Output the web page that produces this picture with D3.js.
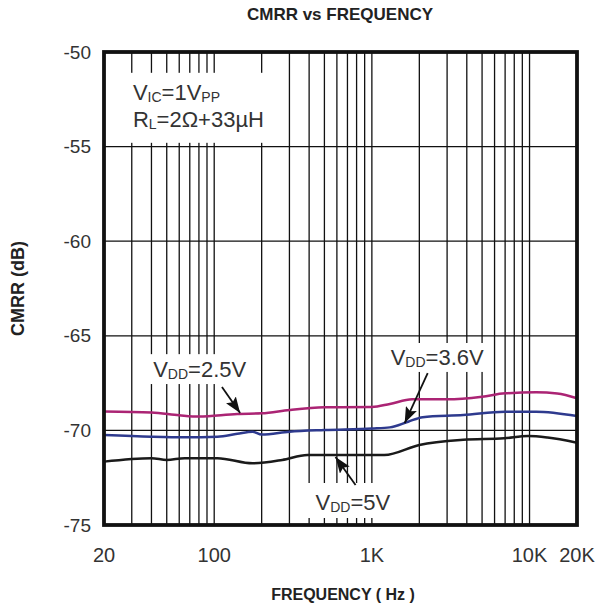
<!DOCTYPE html>
<html>
<head>
<meta charset="utf-8">
<script src="https://cdn.jsdelivr.net/npm/d3@7"></script>
<style>
  body { margin: 0; background: #fff; }
  text { font-family: "Liberation Sans", Arial, sans-serif; }
</style>
</head>
<body>
<script>
var w = 605;
var h = 610;

// values (Hz, dB)
var freq25 = [20, 40, 60, 80, 140, 200, 300, 500, 1000, 1300, 1800, 3000, 5000, 7000, 11000, 15000, 20000];
var cmrr25 = [-69.0, -69.05, -69.2, -69.27, -69.13, -69.1, -68.92, -68.78, -68.76, -68.6, -68.36, -68.36, -68.22, -68.04, -67.99, -68.05, -68.3];

var freq36 = [20, 40, 65, 105, 140, 175, 200, 300, 500, 1000, 1300, 1700, 2100, 3800, 7000, 11000, 20000];
var cmrr36 = [-70.24, -70.33, -70.36, -70.33, -70.18, -70.07, -70.22, -70.07, -69.98, -69.9, -69.84, -69.54, -69.3, -69.19, -69.01, -69.01, -69.24];

var freq5 = [20, 40, 50, 65, 105, 175, 270, 390, 550, 1200, 2000, 3800, 6900, 9800, 13000, 20000];
var cmrr5 = [-71.65, -71.47, -71.56, -71.47, -71.47, -71.74, -71.56, -71.3, -71.3, -71.3, -70.77, -70.5, -70.42, -70.3, -70.38, -70.65];

var xTicks = [20, 100, 1000, 10000, 20000];
var xTickLabels = ["20", "100", "1K", "10K", "20K"];
var gridFreqs = [30, 40, 50, 60, 70, 80, 90, 100, 200, 300, 400, 500, 600, 700, 800, 900,
                 1000, 2000, 3000, 4000, 5000, 6000, 7000, 8000, 9000, 10000];
var yTicks = [-50, -55, -60, -65, -70, -75];

var margin = {left: 104, right: 28, top: 52, bottom: 85};

var svg = d3.select("body")
    .append("svg")
    .attr("width", w)
    .attr("height", h);

var x = d3.scaleLog().domain([20, 20000]).range([margin.left, w - margin.right]);
var y = d3.scaleLinear().domain([-75, -50]).range([h - margin.bottom, margin.top]);

// grid
svg.append("g")
    .selectAll("line")
    .data(gridFreqs)
    .enter()
    .append("line")
    .attr("x1", function (d) { return x(d); })
    .attr("x2", function (d) { return x(d); })
    .attr("y1", y(-50))
    .attr("y2", y(-75))
    .attr("stroke", "#111")
    .attr("stroke-width", 1.3);

svg.append("g")
    .selectAll("line")
    .data(yTicks.slice(1, -1))
    .enter()
    .append("line")
    .attr("x1", x(20))
    .attr("x2", x(20000))
    .attr("y1", function (d) { return y(d); })
    .attr("y2", function (d) { return y(d); })
    .attr("stroke", "#111")
    .attr("stroke-width", 1.3);

// white boxes behind annotation texts (they cut the grid)
var boxes = [
    [29, 230, -51.1, -54.8],
    [37, 180, -65.97, -67.55],
    [1240, 5400, -65.38, -66.91],
    [350, 1420, -72.78, -74.63]
];
svg.append("g")
    .selectAll("rect")
    .data(boxes)
    .enter()
    .append("rect")
    .attr("x", function (d) { return x(d[0]); })
    .attr("width", function (d) { return x(d[1]) - x(d[0]); })
    .attr("y", function (d) { return y(d[2]); })
    .attr("height", function (d) { return y(d[3]) - y(d[2]); })
    .attr("fill", "#fff");

// curves
var series = [
    {f: freq25, v: cmrr25, color: "#ab2474"},
    {f: freq36, v: cmrr36, color: "#2e3a8e"},
    {f: freq5, v: cmrr5, color: "#1a1a1a"}
];

var line = d3.line()
    .x(function (d) { return x(d[0]); })
    .y(function (d) { return y(d[1]); })
    .curve(d3.curveMonotoneX);

svg.append("g")
    .selectAll("path")
    .data(series)
    .enter()
    .append("path")
    .attr("d", function (s) { return line(d3.zip(s.f, s.v)); })
    .attr("fill", "none")
    .attr("stroke", function (s) { return s.color; })
    .attr("stroke-width", 2.5);

// arrows
svg.append("defs").append("marker")
    .attr("id", "head")
    .attr("viewBox", "0 0 16 12")
    .attr("refX", 16)
    .attr("refY", 6)
    .attr("markerWidth", 16)
    .attr("markerHeight", 12)
    .attr("markerUnits", "userSpaceOnUse")
    .attr("orient", "auto")
    .append("path")
    .attr("d", "M0,0L16,6L0,12L3,6z")
    .attr("fill", "#111");

var arrows = [
    [112, -67.71, 146, -69.08],
    [2260, -66.97, 1615, -69.61],
    [788, -72.89, 588, -71.41]
];
svg.append("g")
    .selectAll("line")
    .data(arrows)
    .enter()
    .append("line")
    .attr("x1", function (d) { return x(d[0]); })
    .attr("y1", function (d) { return y(d[1]); })
    .attr("x2", function (d) { return x(d[2]); })
    .attr("y2", function (d) { return y(d[3]); })
    .attr("stroke", "#111")
    .attr("stroke-width", 1.8)
    .attr("marker-end", "url(#head)");

// labels with subscripts
function subText(g, fx, dy, parts) {
    var t = g.append("text")
        .attr("x", x(fx))
        .attr("y", y(dy))
        .attr("font-size", 22)
        .attr("fill", "#333");
    parts.forEach(function (p) {
        if (p[1]) {
            t.append("tspan").attr("font-size", 14).attr("dy", 2).text(p[0]);
        } else {
            t.append("tspan").attr("dy", p[2] ? -2 : 0).text(p[0]);
        }
    });
}

var ann = svg.append("g");
subText(ann, 30.5, -52.54, [["V", false], ["IC", true], ["=1V", false, true], ["PP", true]]);
subText(ann, 30.5, -53.96, [["R", false], ["L", true], ["=2\u03A9+33\u00B5H", false, true]]);
subText(ann, 41, -67.18, [["V", false], ["DD", true], ["=2.5V", false, true]]);
subText(ann, 1316, -66.54, [["V", false], ["DD", true], ["=3.6V", false, true]]);
subText(ann, 439, -74.21, [["V", false], ["DD", true], ["=5V", false, true]]);

// frame
svg.append("rect")
    .attr("x", x(20))
    .attr("y", y(-50))
    .attr("width", x(20000) - x(20))
    .attr("height", y(-75) - y(-50))
    .attr("fill", "none")
    .attr("stroke", "#111")
    .attr("stroke-width", 3.8);

// tick labels
svg.append("g")
    .selectAll("text")
    .data(yTicks)
    .enter()
    .append("text")
    .attr("x", margin.left - 13)
    .attr("y", function (d) { return y(d); })
    .attr("dy", "0.35em")
    .attr("text-anchor", "end")
    .attr("font-size", 19)
    .attr("fill", "#333")
    .text(function (d) { return d; });

svg.append("g")
    .selectAll("text")
    .data(xTicks)
    .enter()
    .append("text")
    .attr("x", function (d) { return x(d); })
    .attr("y", 562)
    .attr("text-anchor", "middle")
    .attr("font-size", 20)
    .attr("fill", "#333")
    .text(function (d, i) { return xTickLabels[i]; });

// titles
svg.append("text")
    .attr("x", 340)
    .attr("y", 20)
    .attr("text-anchor", "middle")
    .attr("font-size", 17)
    .attr("font-weight", "bold")
    .attr("fill", "#222")
    .text("CMRR vs FREQUENCY");

svg.append("text")
    .attr("x", 343)
    .attr("y", 600)
    .attr("text-anchor", "middle")
    .attr("font-size", 16)
    .attr("font-weight", "bold")
    .attr("fill", "#222")
    .text("FREQUENCY ( Hz )");

svg.append("text")
    .attr("transform", "translate(24," + y(-62.5) + ") rotate(-90)")
    .attr("text-anchor", "middle")
    .attr("font-size", 18)
    .attr("font-weight", "bold")
    .attr("fill", "#222")
    .text("CMRR (dB)");
</script>
</body>
</html>
